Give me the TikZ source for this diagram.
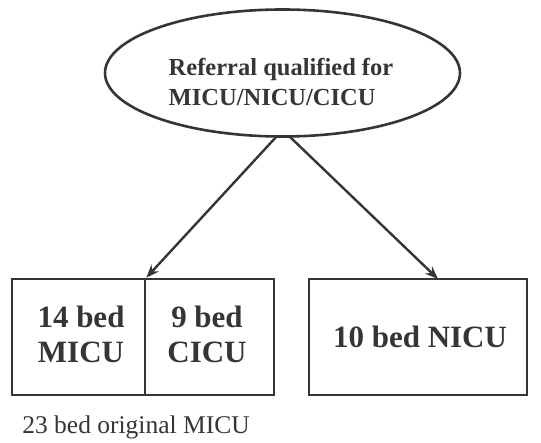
\documentclass[tikz,border=0pt]{standalone}
\usepackage{fontspec}
\setmainfont{Liberation Serif}
\usetikzlibrary{shapes.geometric,arrows.meta}
\definecolor{ink}{HTML}{353538}
\begin{document}
\begin{tikzpicture}[x=1pt,y=-1pt,
  unit/.style={draw=ink, line width=2.6pt, minimum height=116pt, inner sep=0pt},
  lab/.style={text=ink, font=\bfseries\fontsize{31}{35}\selectfont, align=center},
  flow/.style={draw=ink, line width=2.4pt, -{Stealth[length=13pt,width=10pt]}}]
\useasboundingbox (0,0) rectangle (541,443);
% referral ellipse
\node[ellipse, draw=ink, line width=2.6pt, minimum width=355pt, minimum height=127pt, inner sep=0pt] (ref) at (282.5,73) {};
\node[text=ink, font=\bfseries\fontsize{24.5}{30}\selectfont, align=left] (reftxt) at (281,82) {Referral qualified for\\MICU/NICU/CICU};
% unit boxes
\node[unit, minimum width=133pt] (micu) at (78.5,337) {};
\node[unit, minimum width=129pt] (cicu) at (209.5,337) {};
\node[unit, minimum width=218pt] (nicu) at (418,337) {};
\node[lab] (micutxt) at (81,334) {14 bed\\MICU};
\node[lab] (cicutxt) at (207,334) {9 bed\\CICU};
\node[lab] (nicutxt) at (420,337) {10 bed NICU};
\node[text=ink, font=\fontsize{25.5}{30}\selectfont] (orig) at (136,427) {23 bed original MICU};
% connectors
\coordinate (sa) at (277,136);
\coordinate (sb) at (289,136);
\draw[flow] (sa) -- (micu.north east);
\draw[flow] (sb) -- (438,279);
\end{tikzpicture}
\end{document}
